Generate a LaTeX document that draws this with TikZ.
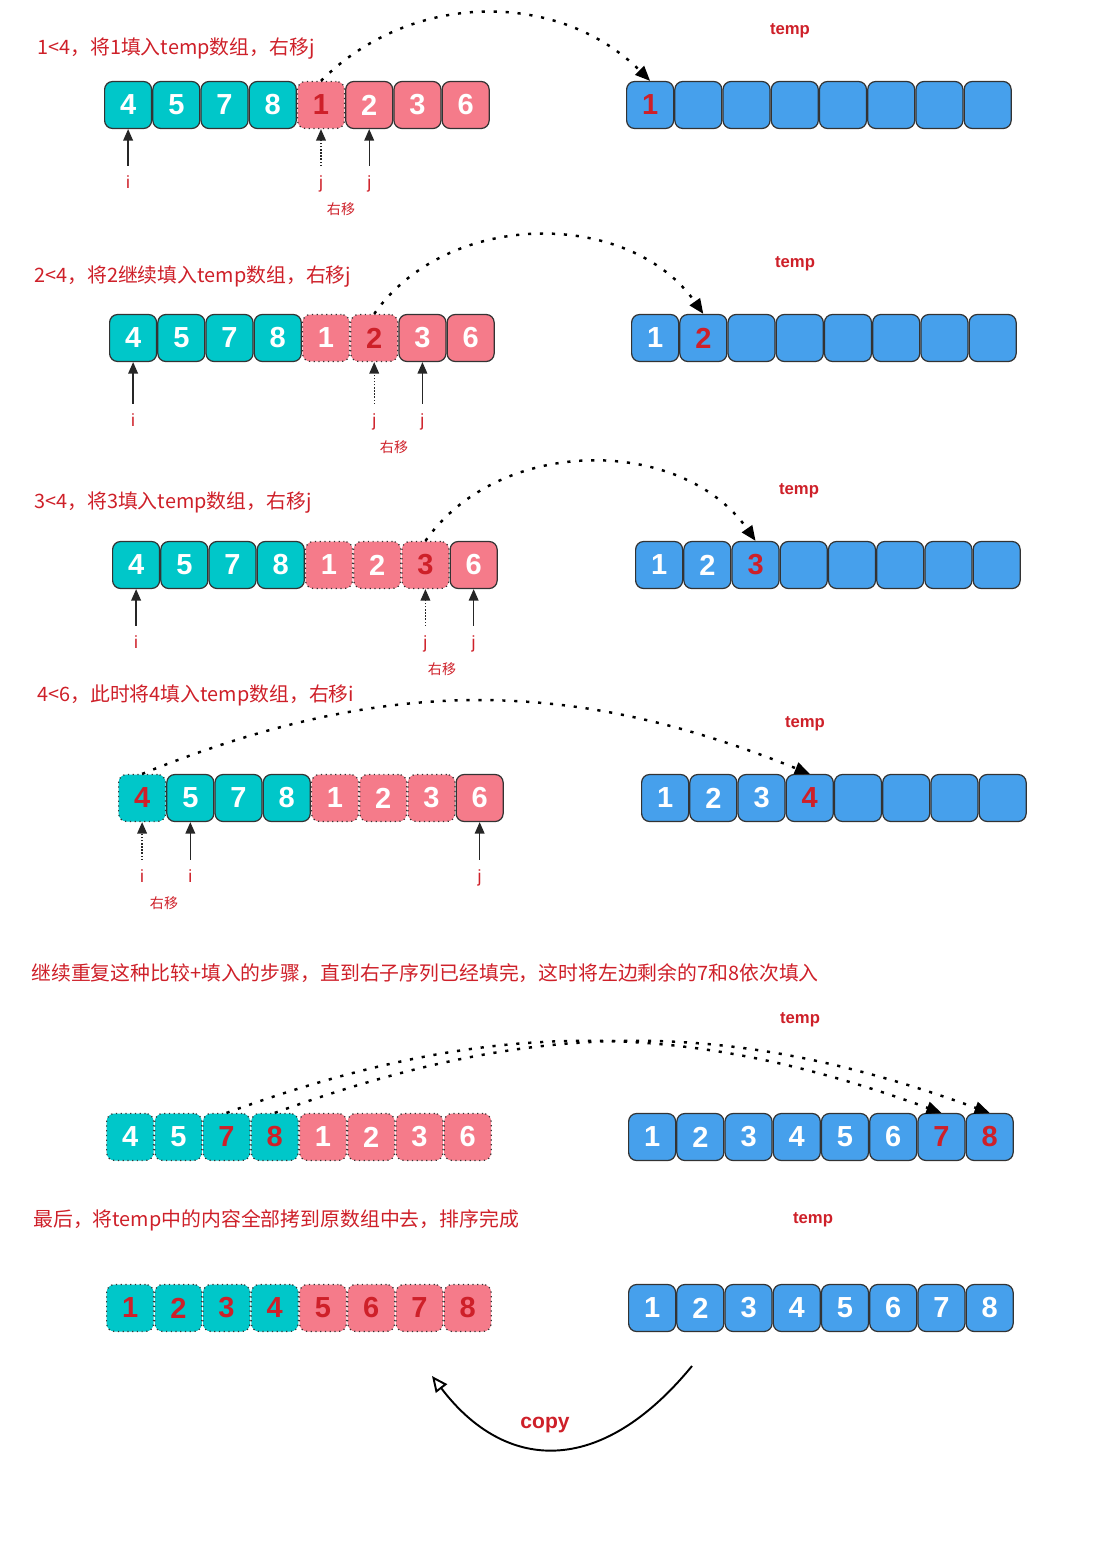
\documentclass[tikz,border=0pt]{standalone}
\usepackage{fontspec}
\setmainfont{Liberation Sans}
\newfontfamily\cjk{Noto Sans CJK SC}
\usepackage{tikz}
\usetikzlibrary{positioning,arrows.meta}
\definecolor{cellteal}{RGB}{0,199,201}
\definecolor{cellpink}{RGB}{245,123,138}
\definecolor{cellblue}{RGB}{70,160,236}
\definecolor{textred}{RGB}{206,32,41}

\begin{document}
\begin{tikzpicture}[x=0.02cm, y=-0.02cm, every node/.style={font=\footnotesize},
    cell/.style={draw=black!80, line width=0.7pt, rounded corners=0.16cm, minimum width=0.94cm, minimum height=0.94cm, inner sep=0pt, text=white, font=\fontsize{16.5}{16.5}\selectfont\bfseries},
    tcell/.style={cell, fill=cellteal},
    pcell/.style={cell, fill=cellpink},
    bcell/.style={cell, fill=cellblue},
    done/.style={dotted},
    hot/.style={text=textred},
    title/.style={anchor=west, inner sep=0pt, text=textred, font=\cjk\fontsize{11.3}{13}\selectfont},
    idx/.style={text=textred, font=\fontsize{10}{12}\selectfont, text height=1.5ex, text depth=0.4ex, inner sep=2pt},
    movelbl/.style={text=textred, font=\cjk\fontsize{8}{10}\selectfont},
    tmplbl/.style={text=textred, font=\fontsize{9.5}{11}\selectfont\bfseries},
    ptr/.style={-{Triangle[length=6.5pt, width=5.5pt]}, line width=0.75pt, black!85, shorten <=2.5pt},
    ptrold/.style={ptr, densely dotted},
    fillto/.style={-{Triangle[length=8.5pt, width=7pt]}, line width=1.4pt, dash pattern=on 1.8pt off 5pt},
    copyarr/.style={-{Triangle[open, length=9pt, width=8pt]}, line width=1.1pt}]
    \useasboundingbox (0,0) rectangle (1102,1544);

    % Step 1
    \node[title] (c1) at (37,49) {1<4，将1填入temp数组，右移j};
    \node[tcell, anchor=west] (l11) at (104,105) {4};
    \node[tcell, right=0pt of l11] (l12) {5};
    \node[tcell, right=0pt of l12] (l13) {7};
    \node[tcell, right=0pt of l13] (l14) {8};
    \node[pcell, done, hot, right=0pt of l14] (l15) {1};
    \node[pcell, right=0pt of l15] (l16) {2};
    \node[pcell, right=0pt of l16] (l17) {3};
    \node[pcell, right=0pt of l17] (l18) {6};
    \node[tmplbl] (m1) at (790,31) {temp};
    \node[bcell, hot, anchor=west] (t11) at (626,105) {1};
    \node[bcell, right=0pt of t11] (t12) {};
    \node[bcell, right=0pt of t12] (t13) {};
    \node[bcell, right=0pt of t13] (t14) {};
    \node[bcell, right=0pt of t14] (t15) {};
    \node[bcell, right=0pt of t15] (t16) {};
    \node[bcell, right=0pt of t16] (t17) {};
    \node[bcell, right=0pt of t17] (t18) {};
    \node[idx] (i1) at (l11 |- 0,183) {i};
    \node[idx] (j1) at (l15 |- 0,183) {j};
    \node[idx] (k1) at (l16 |- 0,183) {j};
    \node[movelbl] (s1) at (341,209) {右移};
    \draw[ptr] (i1) -- (l11);
    \draw[ptrold] (j1) -- (l15);
    \draw[ptr] (k1) -- (l16);
    \draw[fillto] (l15.north) to[bend left=45] (t11.north);

    % Step 2
    \node[title] (c2) at (34,277) {2<4，将2继续填入temp数组，右移j};
    \node[tcell, anchor=west] (l21) at (109,338) {4};
    \node[tcell, right=0pt of l21] (l22) {5};
    \node[tcell, right=0pt of l22] (l23) {7};
    \node[tcell, right=0pt of l23] (l24) {8};
    \node[pcell, done, right=0pt of l24] (l25) {1};
    \node[pcell, done, hot, right=0pt of l25] (l26) {2};
    \node[pcell, right=0pt of l26] (l27) {3};
    \node[pcell, right=0pt of l27] (l28) {6};
    \node[tmplbl] (m2) at (795,264) {temp};
    \node[bcell, anchor=west] (t21) at (631,338) {1};
    \node[bcell, hot, right=0pt of t21] (t22) {2};
    \node[bcell, right=0pt of t22] (t23) {};
    \node[bcell, right=0pt of t23] (t24) {};
    \node[bcell, right=0pt of t24] (t25) {};
    \node[bcell, right=0pt of t25] (t26) {};
    \node[bcell, right=0pt of t26] (t27) {};
    \node[bcell, right=0pt of t27] (t28) {};
    \node[idx] (i2) at (l21 |- 0,421) {i};
    \node[idx] (j2) at (l26 |- 0,421) {j};
    \node[idx] (k2) at (l27 |- 0,421) {j};
    \node[movelbl] (s2) at (394,447) {右移};
    \draw[ptr] (i2) -- (l21);
    \draw[ptrold] (j2) -- (l26);
    \draw[ptr] (k2) -- (l27);
    \draw[fillto] (l26.north) to[bend left=55] (t22.north);

    % Step 3
    \node[title] (c3) at (34,503) {3<4，将3填入temp数组，右移j};
    \node[tcell, anchor=west] (l31) at (112,565) {4};
    \node[tcell, right=0pt of l31] (l32) {5};
    \node[tcell, right=0pt of l32] (l33) {7};
    \node[tcell, right=0pt of l33] (l34) {8};
    \node[pcell, done, right=0pt of l34] (l35) {1};
    \node[pcell, done, right=0pt of l35] (l36) {2};
    \node[pcell, done, hot, right=0pt of l36] (l37) {3};
    \node[pcell, right=0pt of l37] (l38) {6};
    \node[tmplbl] (m3) at (799,491) {temp};
    \node[bcell, anchor=west] (t31) at (635,565) {1};
    \node[bcell, right=0pt of t31] (t32) {2};
    \node[bcell, hot, right=0pt of t32] (t33) {3};
    \node[bcell, right=0pt of t33] (t34) {};
    \node[bcell, right=0pt of t34] (t35) {};
    \node[bcell, right=0pt of t35] (t36) {};
    \node[bcell, right=0pt of t36] (t37) {};
    \node[bcell, right=0pt of t37] (t38) {};
    \node[idx] (i3) at (l31 |- 0,643) {i};
    \node[idx] (j3) at (l37 |- 0,643) {j};
    \node[idx] (k3) at (l38 |- 0,643) {j};
    \node[movelbl] (s3) at (442,669) {右移};
    \draw[ptr] (i3) -- (l31);
    \draw[ptrold] (j3) -- (l37);
    \draw[ptr] (k3) -- (l38);
    \draw[fillto] (l37.north) to[bend left=55] (t33.north);

    % Step 4
    \node[title] (c4) at (37,695) {4<6，此时将4填入temp数组，右移i};
    \node[tcell, done, hot, anchor=west] (l41) at (118,798) {4};
    \node[tcell, right=0pt of l41] (l42) {5};
    \node[tcell, right=0pt of l42] (l43) {7};
    \node[tcell, right=0pt of l43] (l44) {8};
    \node[pcell, done, right=0pt of l44] (l45) {1};
    \node[pcell, done, right=0pt of l45] (l46) {2};
    \node[pcell, done, right=0pt of l46] (l47) {3};
    \node[pcell, right=0pt of l47] (l48) {6};
    \node[tmplbl] (m4) at (805,724) {temp};
    \node[bcell, anchor=west] (t41) at (641,798) {1};
    \node[bcell, right=0pt of t41] (t42) {2};
    \node[bcell, right=0pt of t42] (t43) {3};
    \node[bcell, hot, right=0pt of t43] (t44) {4};
    \node[bcell, right=0pt of t44] (t45) {};
    \node[bcell, right=0pt of t45] (t46) {};
    \node[bcell, right=0pt of t46] (t47) {};
    \node[bcell, right=0pt of t47] (t48) {};
    \node[idx] (i4) at (l41 |- 0,877) {i};
    \node[idx] (j4) at (l42 |- 0,877) {i};
    \node[idx] (k4) at (l48 |- 0,877) {j};
    \node[movelbl] (s4) at (164,903) {右移};
    \draw[ptrold] (i4) -- (l41);
    \draw[ptr] (j4) -- (l42);
    \draw[ptr] (k4) -- (l48);
    \draw[fillto] (l41.north) to[bend left=22] (t44.north);

    % Step 5
    \node[title] (c5) at (31,973) {继续重复这种比较+填入的步骤，直到右子序列已经填完，这时将左边剩余的7和8依次填入};
    \node[tcell, done, anchor=west] (l51) at (106,1137) {4};
    \node[tcell, done, right=0pt of l51] (l52) {5};
    \node[tcell, done, hot, right=0pt of l52] (l53) {7};
    \node[tcell, done, hot, right=0pt of l53] (l54) {8};
    \node[pcell, done, right=0pt of l54] (l55) {1};
    \node[pcell, done, right=0pt of l55] (l56) {2};
    \node[pcell, done, right=0pt of l56] (l57) {3};
    \node[pcell, done, right=0pt of l57] (l58) {6};
    \node[tmplbl] (m5) at (800,1020) {temp};
    \node[bcell, anchor=west] (t51) at (628,1137) {1};
    \node[bcell, right=0pt of t51] (t52) {2};
    \node[bcell, right=0pt of t52] (t53) {3};
    \node[bcell, right=0pt of t53] (t54) {4};
    \node[bcell, right=0pt of t54] (t55) {5};
    \node[bcell, right=0pt of t55] (t56) {6};
    \node[bcell, hot, right=0pt of t56] (t57) {7};
    \node[bcell, hot, right=0pt of t57] (t58) {8};
    \draw[fillto] (l53.north) to[bend left=20] (t57.north);
    \draw[fillto] (l54.north) to[bend left=20] (t58.north);

    % Step 6
    \node[title] (c6) at (33,1220) {最后，将temp中的内容全部拷到原数组中去，排序完成};
    \node[tcell, done, hot, anchor=west] (l61) at (106,1308) {1};
    \node[tcell, done, hot, right=0pt of l61] (l62) {2};
    \node[tcell, done, hot, right=0pt of l62] (l63) {3};
    \node[tcell, done, hot, right=0pt of l63] (l64) {4};
    \node[pcell, done, hot, right=0pt of l64] (l65) {5};
    \node[pcell, done, hot, right=0pt of l65] (l66) {6};
    \node[pcell, done, hot, right=0pt of l66] (l67) {7};
    \node[pcell, done, hot, right=0pt of l67] (l68) {8};
    \node[tmplbl] (m6) at (813,1220) {temp};
    \node[bcell, anchor=west] (t61) at (628,1308) {1};
    \node[bcell, right=0pt of t61] (t62) {2};
    \node[bcell, right=0pt of t62] (t63) {3};
    \node[bcell, right=0pt of t63] (t64) {4};
    \node[bcell, right=0pt of t64] (t65) {5};
    \node[bcell, right=0pt of t65] (t66) {6};
    \node[bcell, right=0pt of t66] (t67) {7};
    \node[bcell, right=0pt of t67] (t68) {8};

    % Copy back
    \coordinate (cpa) at (692,1366);
    \coordinate (cpb) at (432,1376);
    \draw[copyarr] (cpa) .. controls (600,1478) and (505,1472) .. (cpb);
    \node[text=textred, font=\fontsize{12}{14}\selectfont\bfseries] (cp) at (545,1425) {copy};
\end{tikzpicture}
\end{document}
